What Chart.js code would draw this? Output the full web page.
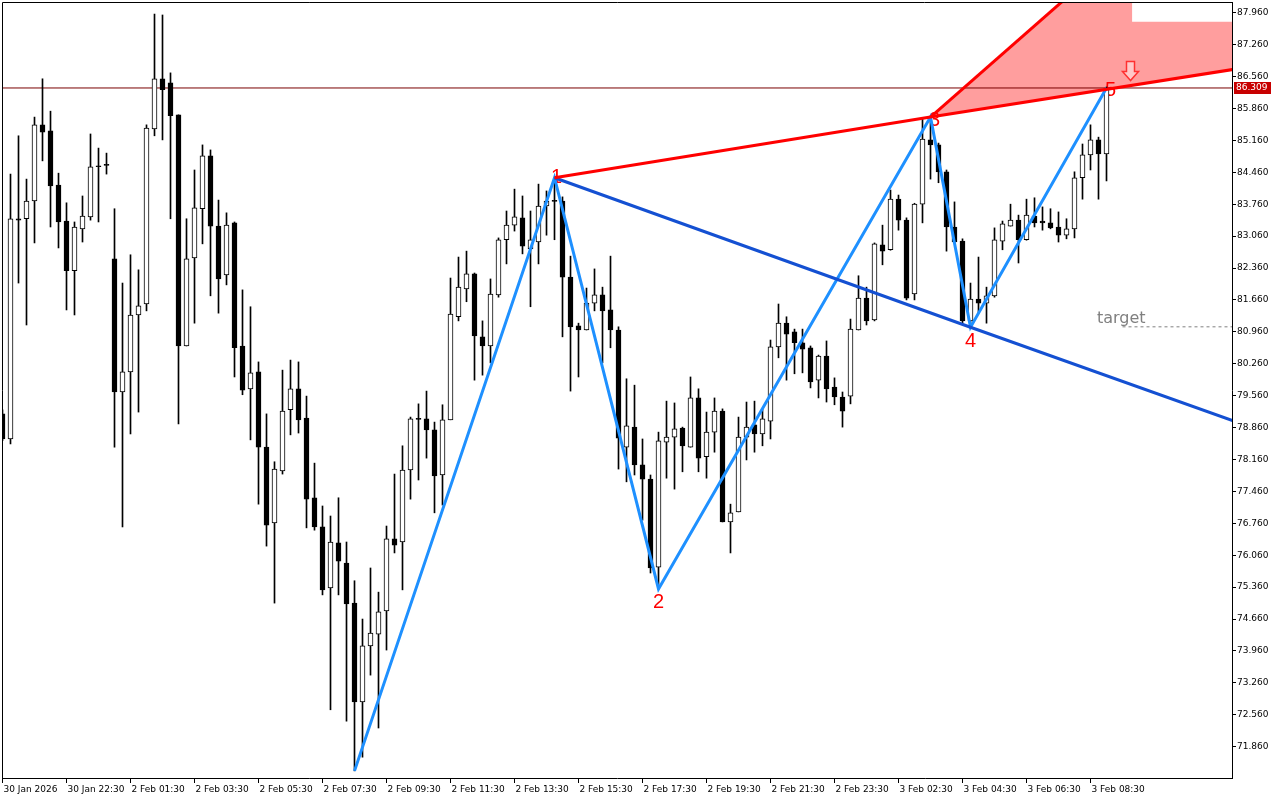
<!DOCTYPE html>
<html>
<head>
<meta charset="utf-8">
<title>M15 wave pattern</title>
<script src="https://cdn.jsdelivr.net/npm/chart.js"></script>
<style>
    html, body { margin: 0; padding: 0; background: #fff; }
    #wrap { width: 1280px; height: 800px; }
</style>
</head>
<body>
<div id="wrap"><canvas id="chart" width="1280" height="800"></canvas></div>
<script>
// candles, one per 15 minutes, index = position on the x axis
const OPEN = [
    79.16, 78.61, 83.44, 83.44, 83.83, 85.50, 85.37, 84.18, 83.39, 82.30,
    83.22, 83.48, 84.60, 84.62, 82.56, 79.64, 80.08, 81.33, 81.57, 85.41,
    86.51, 86.42, 85.72, 80.65, 82.58, 83.66, 84.82, 83.28, 82.21, 83.35,
    80.65, 79.71, 80.08, 78.43, 76.77, 77.91, 79.25, 79.71, 79.07, 77.32,
    76.68, 75.34, 76.33, 75.89, 75.01, 72.84, 74.07, 74.33, 74.84, 76.42,
    76.35, 77.93, 79.06, 79.05, 78.81, 77.82, 79.03, 81.29, 81.90, 82.23,
    80.85, 80.65, 81.77, 82.98, 83.30, 83.46, 82.78, 82.93, 83.72, 83.83,
    83.83, 82.16, 81.09, 81.00, 81.59, 81.77, 81.44, 81.00, 78.43, 78.87,
    78.04, 77.73, 75.80, 78.54, 78.65, 78.85, 78.43, 79.51, 78.22, 78.76,
    79.22, 76.79, 77.01, 78.65, 78.92, 78.72, 79.00, 80.63, 81.15, 80.96,
    80.72, 80.61, 79.90, 80.43, 79.75, 79.53, 79.55, 81.00, 81.70, 81.22,
    82.87, 82.76, 83.87, 83.41, 81.79, 83.76, 85.17, 85.06, 84.47, 83.26,
    82.95, 81.20, 81.68, 81.59, 81.75, 82.95, 83.28, 83.41, 82.98, 83.50,
    83.39, 83.35, 83.26, 83.08, 83.22, 84.34, 84.84, 85.17, 84.86
];
const HIGH = [
    79.25, 84.42, 85.26, 84.31, 85.67, 86.51, 85.80, 84.44, 83.79, 83.37,
    83.94, 85.30, 84.99, 84.88, 83.66, 82.03, 82.65, 82.32, 85.50, 87.93,
    87.91, 86.64, 85.72, 83.44, 84.51, 85.06, 84.95, 83.85, 83.57, 83.37,
    81.88, 81.51, 80.30, 79.16, 78.11, 80.12, 80.34, 80.30, 79.55, 78.08,
    77.14, 76.92, 77.32, 76.35, 75.50, 74.66, 75.78, 75.25, 76.70, 77.84,
    78.46, 79.09, 79.38, 79.66, 78.98, 79.36, 82.14, 82.60, 82.73, 82.25,
    81.20, 82.12, 83.02, 83.61, 84.09, 83.94, 83.61, 84.20, 84.05, 84.34,
    83.92, 82.62, 81.15, 81.92, 82.34, 81.94, 82.62, 81.07, 79.93, 79.79,
    78.61, 77.82, 78.76, 79.44, 79.40, 78.87, 79.97, 79.71, 79.20, 79.51,
    79.27, 77.18, 79.09, 79.42, 79.44, 79.27, 80.78, 81.57, 81.29, 81.02,
    81.02, 80.65, 80.45, 80.76, 79.95, 79.64, 81.24, 82.19, 81.94, 82.91,
    83.30, 84.07, 83.96, 83.46, 83.78, 85.63, 85.67, 85.10, 84.51, 83.81,
    83.00, 82.03, 82.60, 81.94, 83.24, 83.39, 83.76, 83.52, 83.87, 83.90,
    83.70, 83.66, 83.59, 83.44, 84.47, 85.08, 85.50, 85.23, 86.33
];
const LOW = [
    78.57, 78.50, 82.03, 81.11, 82.91, 84.71, 83.26, 82.80, 81.44, 81.33,
    82.93, 83.41, 83.37, 84.42, 78.43, 76.68, 78.72, 79.20, 81.42, 85.26,
    85.17, 83.44, 78.94, 80.65, 81.15, 82.89, 81.75, 81.37, 81.99, 79.97,
    79.58, 78.59, 77.18, 76.26, 75.01, 77.84, 78.70, 78.74, 76.66, 76.61,
    75.19, 72.67, 75.19, 72.42, 71.33, 71.63, 73.43, 72.27, 73.98, 76.11,
    75.30, 77.29, 77.71, 78.19, 76.99, 77.16, 79.03, 81.20, 81.62, 79.90,
    80.01, 80.28, 81.72, 82.45, 83.17, 82.67, 81.51, 82.45, 83.08, 82.98,
    80.85, 79.66, 79.97, 81.00, 81.42, 80.28, 80.61, 77.95, 77.67, 77.82,
    76.83, 75.67, 75.32, 77.75, 77.51, 77.89, 78.43, 77.89, 77.75, 78.32,
    76.79, 76.11, 77.01, 78.15, 78.32, 78.46, 78.61, 80.39, 79.90, 80.04,
    80.06, 79.73, 79.51, 79.42, 79.36, 78.87, 79.38, 81.00, 81.11, 81.20,
    82.43, 82.75, 83.19, 81.66, 81.66, 83.35, 84.31, 84.23, 82.73, 82.91,
    81.15, 81.04, 81.37, 81.15, 81.72, 82.76, 83.28, 82.47, 82.97, 83.26,
    83.19, 83.22, 82.93, 83.00, 83.02, 83.87, 84.51, 83.87, 84.27
];
const CLOSE = [
    78.61, 83.44, 83.41, 83.83, 85.50, 85.34, 84.16, 83.37, 82.30, 83.26,
    83.50, 84.58, 84.58, 84.61, 79.64, 80.08, 81.33, 81.53, 85.43, 86.51,
    86.27, 85.70, 80.65, 82.56, 83.68, 84.82, 83.28, 82.12, 83.30, 80.61,
    79.68, 80.06, 78.43, 76.72, 77.95, 79.22, 79.71, 79.03, 77.29, 76.68,
    75.30, 76.35, 75.93, 74.99, 72.84, 74.07, 74.35, 74.82, 76.42, 76.28,
    77.93, 79.05, 79.04, 78.81, 77.80, 79.03, 81.35, 81.94, 82.23, 80.87,
    80.65, 81.79, 82.98, 83.30, 83.48, 82.84, 82.98, 83.72, 83.83, 83.82,
    82.16, 81.07, 81.00, 81.59, 81.77, 81.42, 81.00, 78.63, 78.90, 78.04,
    77.73, 75.78, 78.57, 78.65, 78.83, 78.46, 79.51, 78.19, 78.76, 79.22,
    76.79, 76.99, 78.65, 78.87, 78.72, 79.05, 80.63, 81.15, 80.91, 80.72,
    80.58, 79.86, 80.43, 79.71, 79.53, 79.22, 81.02, 81.70, 81.20, 82.89,
    82.73, 83.87, 83.41, 81.70, 83.76, 85.19, 85.06, 84.47, 83.26, 82.93,
    81.20, 81.68, 81.59, 81.75, 82.98, 83.33, 83.41, 82.98, 83.52, 83.35,
    83.35, 83.24, 83.08, 83.22, 84.34, 84.84, 85.17, 84.86, 86.309
];
const LAST_PRICE = 86.309;

// axis labels
const TIME_TICKS = [0, 8, 16, 24, 32, 40, 48, 56, 64, 72, 80, 88, 96, 104, 112, 120, 128, 136];
const TIME_LABELS = [
    "30 Jan 2026", "30 Jan 22:30", "2 Feb 01:30", "2 Feb 03:30", "2 Feb 05:30", "2 Feb 07:30",
    "2 Feb 09:30", "2 Feb 11:30", "2 Feb 13:30", "2 Feb 15:30", "2 Feb 17:30", "2 Feb 19:30",
    "2 Feb 21:30", "2 Feb 23:30", "3 Feb 02:30", "3 Feb 04:30", "3 Feb 06:30", "3 Feb 08:30"
];
const PRICE_TICKS = [
    87.96, 87.26, 86.56, 85.86, 85.16, 84.46, 83.76, 83.06, 82.36, 81.66, 80.96, 80.26,
    79.56, 78.86, 78.16, 77.46, 76.76, 76.06, 75.36, 74.66, 73.96, 73.26, 72.56, 71.86
];

// wave points 0..5 and the lines built on them
const WAVE_X = [44, 69, 82, 116, 121, 138];
const WAVE_Y = [71.33, 84.34, 75.32, 85.67, 81.06, 86.31];
const WAVE_NAMES = ["", "1", "2", "3", "4", "5"];
const RAY13_X = [69, 116, 154];
const RAY13_Y = [84.34, 85.67, 86.72];
const RAY3_X = [116, 136];
const RAY3_Y = [85.67, 88.75];
const RAY14_X = [69, 121, 154];
const RAY14_Y = [84.34, 81.06, 79.00];
const ZONE_X = [116, 136, 141.2, 141.2, 154, 154];
const ZONE_Y = [85.67, 88.75, 88.75, 87.76, 87.76, 86.72];
const TARGET_X = [140, 154];
const TARGET_Y = [81.07, 81.07];
const ARROW_X = 140.9;
const ARROW_Y = 86.48;

// visible window
const X_MIN = -0.0625, X_MAX = 153.6875;
const Y_MIN = 71.1734, Y_MAX = 88.1947;

const AXIS_FONT = { family: '"DejaVu Sans", Verdana, sans-serif', size: 9 };

const idx = OPEN.map((_, i) => i);
const bodyColors = idx.map(i => CLOSE[i] >= OPEN[i] ? "#ffffff" : "#000000");
const pts = (xs, ys) => xs.map((x, i) => ({ x: x, y: ys[i] }));

function line(data, color, width, order, extra) {
    return Object.assign({
        type: "line", data: data, borderColor: color, borderWidth: width,
        pointRadius: 0, tension: 0, fill: false, clip: 0, order: order
    }, extra || {});
}

const overlay = {
    id: "overlay",
    beforeDatasetsDraw(chart) {
        const { ctx, chartArea: a, scales: { x, y } } = chart;
        ctx.save();
        ctx.beginPath();
        ctx.rect(a.left, a.top, a.right - a.left, a.bottom - a.top);
        ctx.clip();
        // reversal zone
        ctx.beginPath();
        ZONE_X.forEach((v, i) => {
            const px = x.getPixelForValue(v), py = y.getPixelForValue(ZONE_Y[i]);
            if (i) ctx.lineTo(px, py); else ctx.moveTo(px, py);
        });
        ctx.closePath();
        ctx.fillStyle = "#ff9e9e";
        ctx.fill();
        // wave numbers
        const dx = [0, 2, 0, 4, 0, 4], dy = [0, 5, 19, 9, 20, 8];
        ctx.font = '20px "Liberation Sans", Arial, sans-serif';
        ctx.fillStyle = "#ff0000";
        ctx.textAlign = "center";
        ctx.textBaseline = "alphabetic";
        WAVE_NAMES.forEach((t, i) => {
            if (!t) return;
            ctx.fillText(t, x.getPixelForValue(WAVE_X[i]) + dx[i], y.getPixelForValue(WAVE_Y[i]) + dy[i]);
        });
        // target caption
        ctx.font = '16px "DejaVu Sans", Verdana, sans-serif';
        ctx.fillStyle = "#808080";
        ctx.textAlign = "left";
        ctx.fillText("target", x.getPixelForValue(136.8), y.getPixelForValue(TARGET_Y[0]) - 4);
        ctx.restore();
    },
    afterDatasetsDraw(chart) {
        const { ctx, scales: { x, y } } = chart;
        // hollow down arrow
        const cx = Math.round(x.getPixelForValue(ARROW_X)) + 0.5;
        const ty = Math.round(y.getPixelForValue(ARROW_Y)) + 0.5;
        ctx.save();
        ctx.beginPath();
        ctx.moveTo(cx, ty);
        ctx.lineTo(cx - 8, ty - 9);
        ctx.lineTo(cx - 4, ty - 9);
        ctx.lineTo(cx - 4, ty - 19);
        ctx.lineTo(cx + 4, ty - 19);
        ctx.lineTo(cx + 4, ty - 9);
        ctx.lineTo(cx + 8, ty - 9);
        ctx.closePath();
        ctx.fillStyle = "#ffc8c8";
        ctx.fill();
        ctx.strokeStyle = "#ff3030";
        ctx.lineWidth = 1.5;
        ctx.stroke();
        ctx.restore();
    },
    afterDraw(chart) {
        const { ctx, chartArea: a, scales: { y } } = chart;
        ctx.save();
        ctx.strokeStyle = "#000";
        ctx.lineWidth = 1;
        ctx.beginPath();
        ctx.moveTo(a.left + 0.5, a.bottom);
        ctx.lineTo(a.left + 0.5, a.top + 0.5);
        ctx.lineTo(a.right, a.top + 0.5);
        ctx.stroke();
        // last price box
        const py = y.getPixelForValue(LAST_PRICE);
        ctx.fillStyle = "#c80000";
        ctx.fillRect(a.right + 2, Math.round(py) - 6, 37, 12);
        ctx.fillStyle = "#ffffff";
        ctx.font = '9px "DejaVu Sans", Verdana, sans-serif';
        ctx.textAlign = "left";
        ctx.textBaseline = "middle";
        ctx.fillText(LAST_PRICE.toFixed(3), a.right + 4, Math.round(py));
        ctx.restore();
    }
};

new Chart(document.getElementById("chart"), {
    type: "bar",
    data: {
        datasets: [
            line(pts(RAY13_X, RAY13_Y), "#ff0000", 3, 1),
            line(pts(RAY3_X, RAY3_Y), "#ff0000", 3, 1),
            line(pts(RAY14_X, RAY14_Y), "#1450d2", 3, 2),
            line(pts(WAVE_X, WAVE_Y), "#1e90ff", 3, 3),
            {
                type: "bar",
                data: idx.map(i => ({ x: i, y: [OPEN[i], CLOSE[i]] })),
                backgroundColor: bodyColors,
                borderColor: "#000000",
                borderWidth: 1,
                borderSkipped: false,
                barThickness: 5,
                minBarLength: 1,
                grouped: false,
                clip: 0,
                order: 4
            },
            {
                type: "bar",
                data: idx.map(i => ({ x: i, y: [LOW[i], HIGH[i]] })),
                backgroundColor: "#000000",
                borderWidth: 0,
                barThickness: 1,
                grouped: false,
                clip: 0,
                order: 5
            },
            line(pts([-1, 155], [LAST_PRICE, LAST_PRICE]), "#7a0000", 1, 6),
            line(pts(TARGET_X, TARGET_Y), "#808080", 1, 7, { borderDash: [3, 3] })
        ]
    },
    options: {
        responsive: false,
        animation: false,
        devicePixelRatio: 1,
        events: [],
        layout: { padding: { left: 2, top: 2, right: 0, bottom: 0 } },
        plugins: { legend: { display: false }, tooltip: { enabled: false } },
        scales: {
            x: {
                type: "linear",
                min: X_MIN,
                max: X_MAX,
                offset: false,
                afterBuildTicks: s => { s.ticks = TIME_TICKS.map(v => ({ value: v })); },
                afterFit: s => { s.height = 22; s.paddingLeft = 0; s.paddingRight = 0; },
                ticks: {
                    autoSkip: false, minRotation: 0, maxRotation: 0, align: "start",
                    labelOffset: 1, padding: 1, color: "#000", font: AXIS_FONT,
                    callback: (v, i) => TIME_LABELS[i]
                },
                grid: { drawOnChartArea: false, drawTicks: true, tickLength: 5, color: "#000", offset: false },
                border: { display: true, color: "#000", width: 1 }
            },
            y: {
                position: "right",
                min: Y_MIN,
                max: Y_MAX,
                afterBuildTicks: s => { s.ticks = PRICE_TICKS.map(v => ({ value: v })); },
                afterFit: s => { s.width = 48; s.paddingTop = 0; s.paddingBottom = 0; },
                ticks: {
                    autoSkip: false, padding: 1, color: "#000", font: AXIS_FONT,
                    callback: v => v.toFixed(3)
                },
                grid: { drawOnChartArea: false, drawTicks: true, tickLength: 4, color: "#000" },
                border: { display: true, color: "#000", width: 1 }
            }
        }
    },
    plugins: [overlay]
});
</script>
</body>
</html>
